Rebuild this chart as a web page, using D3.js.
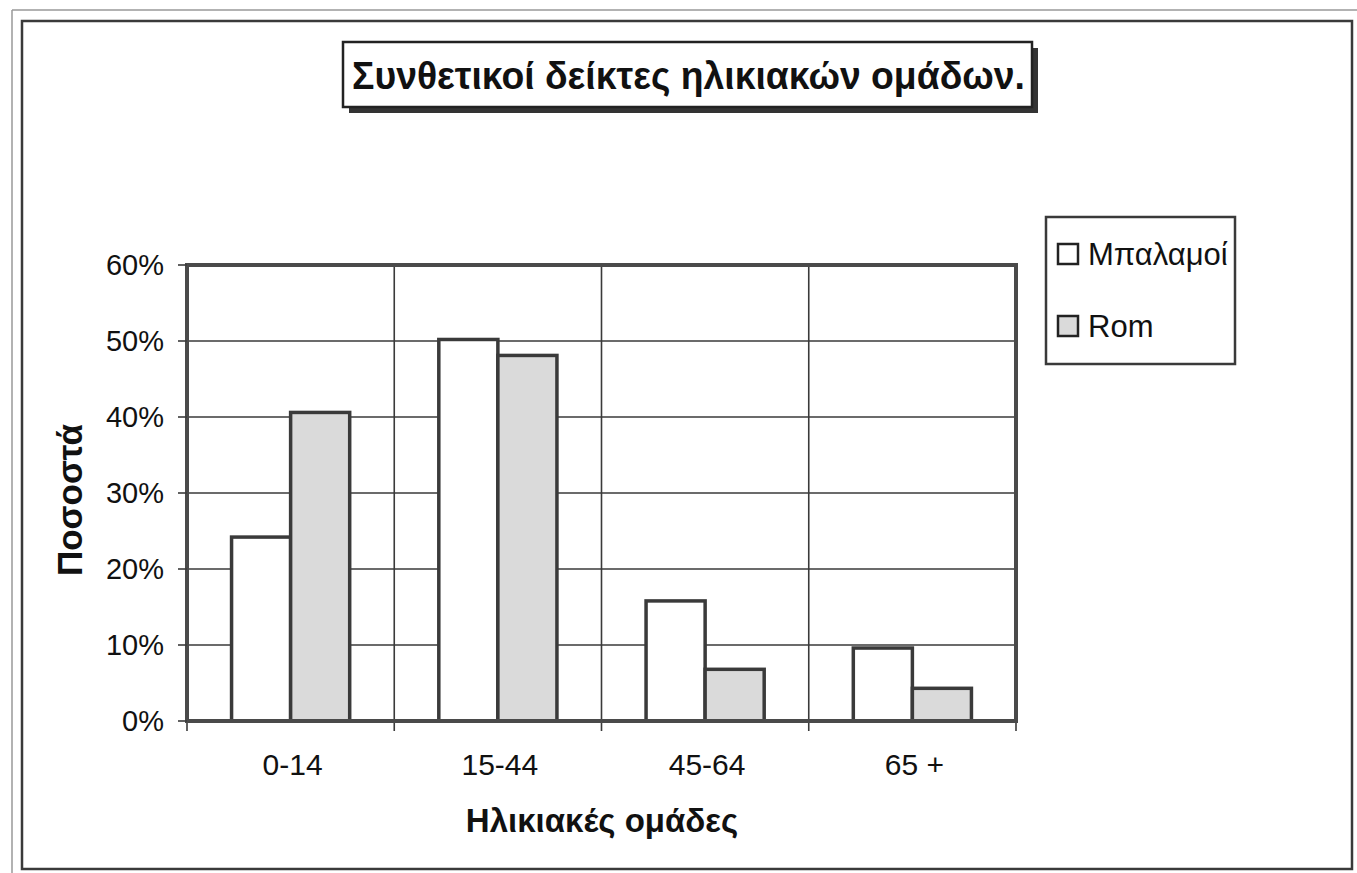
<!DOCTYPE html>
<html>
<head>
<meta charset="utf-8">
<script src="https://cdn.jsdelivr.net/npm/d3@7"></script>
<style>
  body { margin: 0; background: #fff; }
  text { font-family: Arial, "Liberation Sans", sans-serif; fill: #111; }
</style>
</head>
<body>
<svg id="chart" width="1357" height="873"></svg>
<script>
// data
var categories = ["0-14", "15-44", "45-64", "65 +"];
var seriesNames = ["Μπαλαμοί", "Rom"];
var balamoi = [0.242, 0.502, 0.158, 0.096];
var rom = [0.406, 0.481, 0.068, 0.043];
var yTicks = [0, 0.1, 0.2, 0.3, 0.4, 0.5, 0.6];
var seriesFill = ["#ffffff", "#dadada"];

var svg = d3.select('#chart');
var plotL = 187, plotR = 1016, plotT = 265, plotB = 721;
var dark = "#3a3a3a";

// frame lines
svg.append("line").attr("x1", 12).attr("y1", 10).attr("x2", 1357).attr("y2", 10)
    .attr("stroke", "#999").attr("stroke-width", 1.5);
svg.append("line").attr("x1", 12).attr("y1", 10).attr("x2", 12).attr("y2", 873)
    .attr("stroke", "#999").attr("stroke-width", 1.5);
svg.append("rect").attr("x", 22).attr("y", 21).attr("width", 1330).attr("height", 848)
    .attr("fill", "none").attr("stroke", dark).attr("stroke-width", 2.5);

var x0 = d3.scaleBand().domain(categories).range([plotL, plotR])
    .paddingInner(0.43).paddingOuter(0.215);
var x1 = d3.scaleBand().domain(seriesNames).range([0, x0.bandwidth()]);
var y = d3.scaleLinear().domain([0, 0.6]).range([plotB, plotT]);

// horizontal grid
svg.append("g").selectAll("line").data(yTicks).join("line")
    .attr("x1", plotL).attr("x2", plotR)
    .attr("y1", function(d) { return y(d); })
    .attr("y2", function(d) { return y(d); })
    .attr("stroke", dark).attr("stroke-width", 1.6);

// vertical grid at category boundaries
var step = x0.step();
var bounds = d3.range(categories.length + 1).map(function(i) { return plotL + i * step; });
svg.append("g").selectAll("line").data(bounds).join("line")
    .attr("x1", function(d) { return d; }).attr("x2", function(d) { return d; })
    .attr("y1", plotT).attr("y2", plotB + 10)
    .attr("stroke", dark).attr("stroke-width", 1.6);

// bars
var rows = categories.map(function(c, i) {
    return { cat: c, vals: [balamoi[i], rom[i]] };
});
svg.append("g").selectAll("g").data(rows).join("g")
    .attr("transform", function(d) { return "translate(" + x0(d.cat) + ",0)"; })
    .selectAll("rect")
    .data(function(d) { return d.vals.map(function(v, j) { return { name: seriesNames[j], v: v, j: j }; }); })
    .join("rect")
    .attr("x", function(d) { return x1(d.name); })
    .attr("y", function(d) { return y(d.v); })
    .attr("width", x1.bandwidth())
    .attr("height", function(d) { return y(0) - y(d.v); })
    .attr("fill", function(d) { return seriesFill[d.j]; })
    .attr("stroke", dark).attr("stroke-width", 3.5);

// plot frame: thick axes plus top and right
svg.append("rect").attr("x", plotL).attr("y", plotT)
    .attr("width", plotR - plotL).attr("height", plotB - plotT)
    .attr("fill", "none").attr("stroke", "#4a4a4a").attr("stroke-width", 4);

// y axis ticks and labels
var yAxis = svg.append("g");
yAxis.selectAll("line").data(yTicks).join("line")
    .attr("x1", plotL - 9).attr("x2", plotL)
    .attr("y1", function(d) { return y(d); })
    .attr("y2", function(d) { return y(d); })
    .attr("stroke", dark).attr("stroke-width", 1.6);
yAxis.selectAll("text").data(yTicks).join("text")
    .attr("x", 164)
    .attr("y", function(d) { return y(d); })
    .attr("dy", "0.36em")
    .attr("text-anchor", "end")
    .style("font-size", "29px")
    .text(d3.format(".0%"));

// x labels
svg.append("g").selectAll("text").data(categories).join("text")
    .attr("x", function(d) { return x0(d) + x0.bandwidth() / 2 + 2; })
    .attr("y", 775)
    .attr("text-anchor", "middle")
    .style("font-size", "30px")
    .text(function(d) { return d; });

// axis titles
svg.append("text").attr("x", 602).attr("y", 832)
    .attr("text-anchor", "middle")
    .style("font-size", "33px").style("font-weight", "bold")
    .text("Ηλικιακές ομάδες");
svg.append("text")
    .attr("transform", "translate(82,500) rotate(-90)")
    .attr("text-anchor", "middle")
    .style("font-size", "35px").style("font-weight", "bold")
    .text("Ποσοστά");

// title box with shadow
svg.append("rect").attr("x", 349).attr("y", 48).attr("width", 689).attr("height", 65)
    .attr("fill", "#333");
svg.append("rect").attr("x", 343).attr("y", 42).attr("width", 689).attr("height", 65)
    .attr("fill", "#fff").attr("stroke", "#222").attr("stroke-width", 2.5);
svg.append("text").attr("x", 352).attr("y", 89)
    .attr("textLength", 673).attr("lengthAdjust", "spacingAndGlyphs")
    .style("font-size", "38px").style("font-weight", "bold")
    .text("Συνθετικοί δείκτες ηλικιακών ομάδων.");

// legend
var legend = svg.append("g");
legend.append("rect").attr("x", 1046).attr("y", 217).attr("width", 189).attr("height", 147)
    .attr("fill", "#fff").attr("stroke", dark).attr("stroke-width", 2.5);
var items = legend.selectAll("g.item").data(seriesNames).join("g")
    .attr("class", "item")
    .attr("transform", function(d, i) { return "translate(1058," + (244 + i * 72) + ")"; });
items.append("rect").attr("width", 20).attr("height", 20)
    .attr("fill", function(d, i) { return seriesFill[i]; })
    .attr("stroke", "#222").attr("stroke-width", 2.5);
items.append("text").attr("x", 30).attr("y", 21)
    .style("font-size", "31px")
    .text(function(d) { return d; });
</script>
</body>
</html>
